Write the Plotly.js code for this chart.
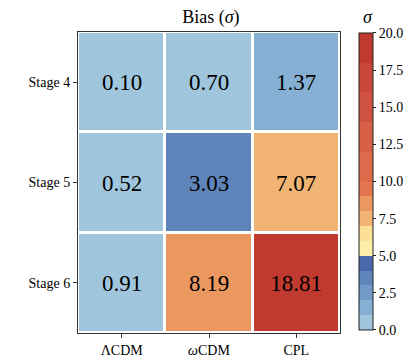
<!DOCTYPE html>
<html>
<head>
<meta charset="utf-8">
<script src="https://cdn.plot.ly/plotly-3.0.1.min.js"></script>
<style>html,body{margin:0;padding:0;background:#fff;}#chart{width:416px;height:357px;}</style>
</head>
<body>
<div id="chart"></div>
<script>
const models = ["ΛCDM", "<i>ω</i>CDM", "CPL"];
const stages = ["Stage 4", "Stage 5", "Stage 6"];
const bias = [
  [0.10, 0.70, 1.37],
  [0.52, 3.03, 7.07],
  [0.91, 8.19, 18.81]
];
const cbTicks = [0, 2.5, 5, 7.5, 10, 12.5, 15, 17.5, 20];
const binEdges = [0, 1, 2, 3, 4, 5, 6, 7, 8, 9, 10, 12, 14, 16, 18, 20];
const binColors = ["#a0c6de", "#86b0d3", "#7299c8", "#5f84b9", "#4a69ad",
  "#fdeeab", "#fbe096", "#f2b472", "#eb9860", "#e2774f",
  "#dc6a4b", "#d75f46", "#d05240", "#c9473a", "#c03a30"];

const zmax = 20;
const colorscale = [];
binColors.forEach((c, i) => {
  colorscale.push([binEdges[i] / zmax, c]);
  colorscale.push([binEdges[i + 1] / zmax, c]);
});

const serif = "Liberation Serif";
const trace = {
  type: "heatmap",
  x: models,
  y: stages,
  z: bias,
  zmin: 0,
  zmax: zmax,
  colorscale: colorscale,
  xgap: 3,
  ygap: 3,
  texttemplate: "%{z:.2f}",
  textfont: {family: serif, size: 23, color: "#000"},
  hoverinfo: "none",
  colorbar: {
    tickvals: cbTicks,
    ticktext: cbTicks.map(v => v.toFixed(1)),
    ticks: "outside",
    ticklen: 3,
    tickcolor: "#222",
    tickfont: {family: serif, size: 14, color: "#000"},
    thickness: 14,
    thicknessmode: "pixels",
    len: 297 / 301,
    lenmode: "fraction",
    x: 1.072,
    xanchor: "left",
    xpad: 0,
    y: 0.9967,
    yanchor: "top",
    ypad: 0,
    outlinecolor: "#222",
    outlinewidth: 1
  }
};

const layout = {
  width: 416,
  height: 357,
  margin: {l: 78, r: 72, t: 32, b: 24},
  paper_bgcolor: "#fff",
  plot_bgcolor: "#fff",
  font: {family: serif, color: "#000"},
  title: {text: "Bias (<i>σ</i>)", font: {family: serif, size: 18, color: "#000"}, x: 0.507, xanchor: "center", y: 0.953, yanchor: "middle"},
  annotations: [{
    text: "<i>σ</i>", xref: "paper", yref: "paper", x: 1.108, y: 1.0, xanchor: "center", yanchor: "bottom",
    yshift: 3, showarrow: false, font: {family: serif, size: 18, color: "#000"}
  }],
  xaxis: {
    type: "category",
    showgrid: false,
    zeroline: false,
    ticks: "outside",
    ticklen: 4,
    tickcolor: "#333",
    tickfont: {family: serif, size: 14, color: "#000"},
    showline: true,
    linecolor: "#333",
    linewidth: 1,
    mirror: true
  },
  yaxis: {
    type: "category",
    autorange: "reversed",
    showgrid: false,
    zeroline: false,
    ticks: "outside",
    ticklen: 4,
    tickcolor: "#333",
    tickfont: {family: serif, size: 14, color: "#000"},
    showline: true,
    linecolor: "#333",
    linewidth: 1,
    mirror: true
  }
};

Plotly.newPlot("chart", [trace], layout, {displayModeBar: false, staticPlot: true});
</script>
</body>
</html>
